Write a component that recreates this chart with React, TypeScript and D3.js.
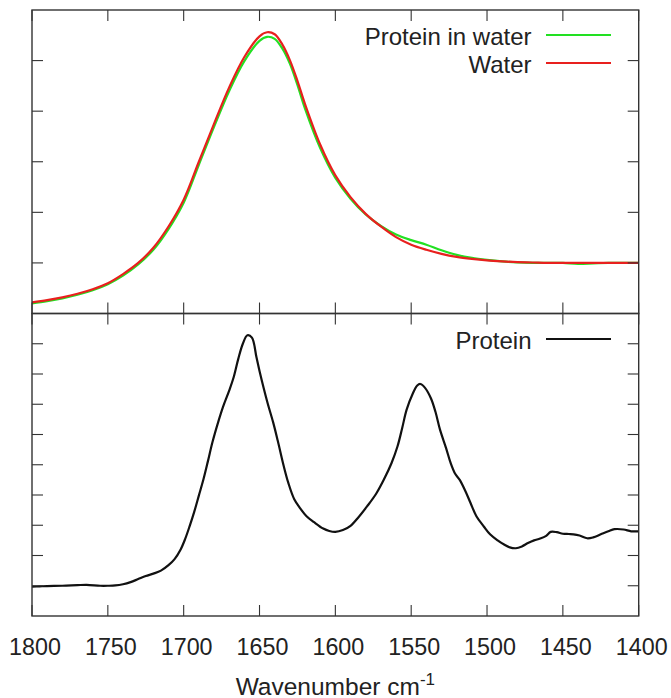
import React from "react";
import * as d3 from "d3";

// ---- data ----
const xTicks = [1800, 1750, 1700, 1650, 1600, 1550, 1500, 1450, 1400];
const topYTicks = [0, 1, 2, 3, 4];
const bottomYTicks = [1, 2, 3, 4, 5, 6, 7, 8, 9];

const waterWn = [1800, 1790, 1780, 1770, 1760, 1750, 1740, 1730, 1720, 1710, 1700, 1690, 1680, 1670, 1660, 1650, 1645, 1640, 1635, 1630, 1625, 1620, 1610, 1600, 1590, 1580, 1570, 1560, 1550, 1540, 1530, 1520, 1510, 1500, 1490, 1480, 1470, 1460, 1450, 1440, 1430, 1420, 1410, 1400];
const waterVals = [-0.78, -0.735, -0.68, -0.61, -0.52, -0.4, -0.22, 0.0, 0.3, 0.72, 1.25, 2.0, 2.75, 3.47, 4.07, 4.48, 4.56, 4.52, 4.32, 4.01, 3.6, 3.14, 2.34, 1.73, 1.3, 0.97, 0.72, 0.51, 0.36, 0.26, 0.18, 0.12, 0.08, 0.05, 0.03, 0.015, 0.008, 0.0, 0.0, 0.0, 0.0, 0.0, 0.0, 0.0];
const proteinInWaterVals = [-0.8, -0.755, -0.7, -0.63, -0.54, -0.42, -0.25, -0.03, 0.26, 0.67, 1.19, 1.94, 2.69, 3.4, 3.99, 4.39, 4.47, 4.43, 4.24, 3.94, 3.52, 3.05, 2.27, 1.68, 1.27, 0.96, 0.73, 0.56, 0.45, 0.36, 0.25, 0.16, 0.1, 0.06, 0.03, 0.01, 0.0, 0.0, 0.0, -0.02, -0.01, 0.0, 0.0, 0.0];

const proteinWn = [1800, 1795, 1790, 1780, 1770, 1764, 1755, 1750, 1745, 1740, 1735, 1730, 1725, 1720, 1715, 1710, 1706, 1702, 1699, 1696, 1693, 1690, 1687, 1684, 1681, 1677, 1674, 1670, 1667, 1664, 1661, 1658, 1655, 1652, 1650, 1645, 1641, 1638, 1634, 1631, 1627, 1623, 1619, 1614, 1608, 1604, 1600, 1595, 1590, 1585, 1579, 1573, 1568, 1563, 1559, 1556, 1553, 1549, 1546, 1544, 1541, 1537, 1534, 1531, 1527, 1524, 1521, 1518, 1514, 1511, 1507, 1502, 1498, 1493, 1489, 1485, 1481, 1477, 1473, 1469, 1465, 1461, 1458, 1454, 1450, 1446, 1443, 1439, 1434, 1430, 1425, 1420, 1416, 1410, 1405, 1400];
const proteinVals = [0.97, 0.98, 0.99, 1.0, 1.02, 1.03, 1.0, 1.0, 1.01, 1.05, 1.12, 1.22, 1.32, 1.4, 1.5, 1.68, 1.88, 2.2, 2.55, 2.98, 3.45, 3.98, 4.51, 5.12, 5.75, 6.45, 6.92, 7.45, 7.9, 8.5, 9.0, 9.28, 9.2, 8.55, 8.1, 7.1, 6.4, 5.8, 4.95, 4.4, 3.85, 3.55, 3.3, 3.1, 2.89, 2.81, 2.78, 2.84, 2.98, 3.25, 3.63, 4.05, 4.51, 5.05, 5.61, 6.2, 6.82, 7.35, 7.62, 7.67, 7.55, 7.2, 6.75, 6.16, 5.55, 5.06, 4.7, 4.5, 4.1, 3.75, 3.3, 2.95, 2.7, 2.5, 2.37, 2.27, 2.24, 2.3, 2.41, 2.5, 2.56, 2.65, 2.78, 2.77, 2.72, 2.71, 2.7, 2.66, 2.57, 2.6, 2.7, 2.8, 2.87, 2.86, 2.8, 2.8];

const FONT = "'Liberation Sans', Arial, sans-serif";

export default function App() {
  const W = 671, H = 698;
  const left = 32, right = 638.7;
  const top = 10, mid = 313.5, bottom = 616;
  const tick = 11;
  const frameColor = "#333";

  const x = d3.scaleLinear().domain([1800, 1400]).range([left, right]);
  const yTop = d3.scaleLinear().domain([-1, 5]).range([mid, top]);
  const yBot = d3.scaleLinear().domain([0, 10]).range([bottom, mid]);

  const lineTop = (vals: number[]) =>
    d3.line<number>().x((_, i) => x(waterWn[i])).y((v) => yTop(v)).curve(d3.curveCatmullRom.alpha(0.5))(vals) || "";
  const lineBot =
    d3.line<number>().x((_, i) => x(proteinWn[i])).y((v) => yBot(v)).curve(d3.curveCatmullRom.alpha(0.5))(proteinVals) || "";

  return (
    <svg width={W} height={H} style={{ position: "absolute", left: 0, top: 0 }} fontFamily={FONT}>
      <rect x={0} y={0} width={W} height={H} fill="#fff" />
      <defs>
        <clipPath id="clipTop"><rect x={left} y={top} width={right - left} height={mid - top} /></clipPath>
        <clipPath id="clipBot"><rect x={left} y={mid} width={right - left} height={bottom - mid} /></clipPath>
      </defs>

      {/* curves */}
      <g clipPath="url(#clipTop)" fill="none" strokeWidth={2.2} strokeLinejoin="round">
        <path d={lineTop(proteinInWaterVals)} stroke="#22e022" />
        <path d={lineTop(waterVals)} stroke="#e8201e" />
      </g>
      <g clipPath="url(#clipBot)" fill="none">
        <path d={lineBot} stroke="#111" strokeWidth={2.2} strokeLinejoin="round" />
      </g>

      {/* ticks */}
      <g stroke={frameColor} strokeWidth={1.1}>
        {xTicks.map((t) => (
          <g key={"xt" + t}>
            <line x1={x(t)} x2={x(t)} y1={top} y2={top + tick} />
            <line x1={x(t)} x2={x(t)} y1={mid} y2={mid - tick} />
            <line x1={x(t)} x2={x(t)} y1={mid} y2={mid + tick} />
            <line x1={x(t)} x2={x(t)} y1={bottom} y2={bottom - tick} />
          </g>
        ))}
        {topYTicks.map((t) => (
          <g key={"yt" + t}>
            <line x1={left} x2={left + tick} y1={yTop(t)} y2={yTop(t)} />
            <line x1={right} x2={right - tick} y1={yTop(t)} y2={yTop(t)} />
          </g>
        ))}
        {bottomYTicks.map((t) => (
          <g key={"yb" + t}>
            <line x1={left} x2={left + tick} y1={yBot(t)} y2={yBot(t)} />
            <line x1={right} x2={right - tick} y1={yBot(t)} y2={yBot(t)} />
          </g>
        ))}
      </g>

      {/* frames */}
      <g fill="none" stroke={frameColor} strokeWidth={1.4}>
        <rect x={left} y={top} width={right - left} height={mid - top} />
        <rect x={left} y={mid} width={right - left} height={bottom - mid} />
      </g>

      {/* x tick labels */}
      <g fontSize={23.3} fill="#222" textAnchor="middle">
        {xTicks.map((t) => (
          <text key={"xl" + t} x={x(t) + 3} y={655}>{t}</text>
        ))}
      </g>

      {/* axis title */}
      <text x={(left + right) / 2} y={695} fontSize={24.5} fill="#222" textAnchor="middle">
        Wavenumber cm<tspan dy={-10} fontSize={17}>-1</tspan>
      </text>

      {/* legends */}
      <g fontSize={24} fill="#222" textAnchor="end">
        <text x={531.5} y={45}>Protein in water</text>
        <text x={531.5} y={73}>Water</text>
        <text x={531.5} y={349}>Protein</text>
      </g>
      <line x1={546} x2={611} y1={35} y2={35} stroke="#22e022" strokeWidth={2.2} />
      <line x1={546} x2={611} y1={63} y2={63} stroke="#e8201e" strokeWidth={2.2} />
      <line x1={546} x2={611} y1={339} y2={339} stroke="#111" strokeWidth={2.2} />
    </svg>
  );
}
